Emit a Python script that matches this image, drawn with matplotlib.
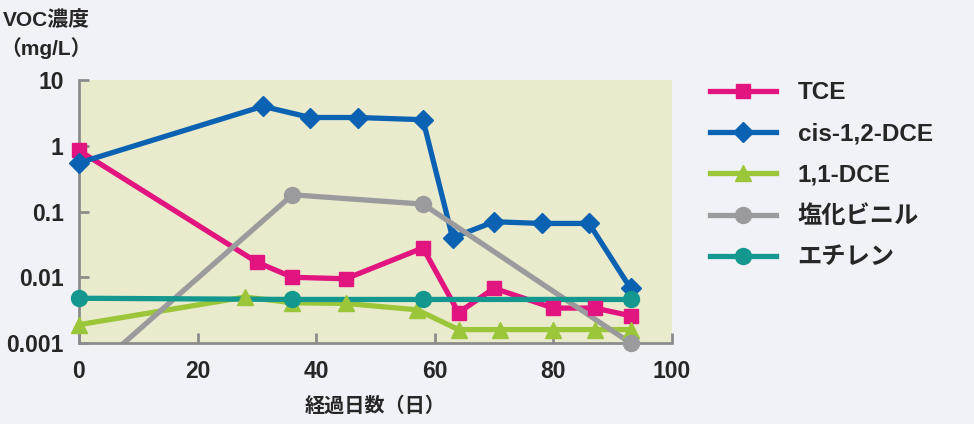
import matplotlib
matplotlib.use("Agg")
import matplotlib.pyplot as plt
import numpy as np

plt.rcParams['font.family'] = ['Liberation Sans', 'Noto Sans CJK JP', 'DejaVu Sans']
plt.rcParams['font.weight'] = 'bold'

# 経過日数と各VOC濃度 (mg/L)
tce_days = [0, 30, 36, 45, 58, 64, 70, 80, 87, 93]
tce_vals = [0.85, 0.017, 0.010, 0.0095, 0.028, 0.0029, 0.0068, 0.0034, 0.0034, 0.0026]

cis_days = [0, 31, 39, 47, 58, 63, 70, 78, 86, 93]
cis_vals = [0.55, 4.0, 2.7, 2.7, 2.5, 0.040, 0.070, 0.066, 0.066, 0.0068]

dce11_days = [0, 28, 36, 45, 57, 64, 71, 80, 87, 93]
dce11_vals = [0.0019, 0.0050, 0.0041, 0.0040, 0.0032, 0.0016, 0.0016, 0.0016, 0.0016, 0.0016]

vc_days = [0, 36, 58, 93]
vc_vals = [0.00025, 0.18, 0.13, 0.001]

eth_days = [0, 36, 58, 93]
eth_vals = [0.0048, 0.0046, 0.0046, 0.0046]

series = [
    ("TCE", tce_days, tce_vals, "#E2147F", "s", 10.5),
    ("cis-1,2-DCE", cis_days, cis_vals, "#0B62B2", "D", 10),
    ("1,1-DCE", dce11_days, dce11_vals, "#9CC63A", "^", 11.5),
    ("塩化ビニル", vc_days, vc_vals, "#9B9B9E", "o", 11.5),
    ("エチレン", eth_days, eth_vals, "#13978E", "o", 11.5),
]
text_col = "#262626"

fig = plt.figure(figsize=(9.74, 4.24), dpi=100)
fig.patch.set_facecolor("#F1F2F7")
ax = fig.add_axes([0.081, 0.191, 0.609, 0.62])
ax.set_facecolor("#E9EBCC")

# 描画順: 下から
order = [4, 3, 2, 0, 1]
handles = {}
for i in order:
    name, d, v, c, m, ms = series[i]
    d = np.array(d)
    v = np.array(v)
    ax.plot(d, v, color=c, lw=3.8, zorder=2 + i * 0.1)
    mask = v >= 0.001
    ax.plot(d[mask], v[mask], ls="none", marker=m, ms=ms, color=c,
            clip_on=False, zorder=3 + i * 0.1)
    handles[i] = plt.Line2D([], [], color=c, lw=3.8, marker=m, ms=ms)

ax.set_yscale("log")
ax.set_ylim(0.001, 10)
ax.set_xlim(0, 100)
ax.set_yticks([0.001, 0.01, 0.1, 1, 10])
ax.set_yticklabels(["0.001", "0.01", "0.1", "1", "10"])
ax.minorticks_off()
ax.set_xticks([0, 20, 40, 60, 80, 100])

for s in ["top", "right"]:
    ax.spines[s].set_visible(False)
for s in ["left", "bottom"]:
    ax.spines[s].set_color("#8C8C8C")
    ax.spines[s].set_linewidth(2)
ax.tick_params(direction="in", length=7, width=2, color="#8C8C8C",
               labelsize=16.5, labelcolor=text_col)
ax.tick_params(axis="y", pad=11)
ax.tick_params(axis="x", pad=12)
for lab in ax.get_xticklabels() + ax.get_yticklabels():
    lab.set_fontweight("bold")

ax.set_xlabel("経過日数（日）", fontsize=14.5, fontweight="bold",
              color=text_col, labelpad=10)
fig.text(0.003, 0.952, "VOC濃度", fontsize=15, fontweight="bold",
         color=text_col, va="center", ha="left")
fig.text(0.0, 0.887, "（mg/L）", fontsize=15, fontweight="bold",
         color=text_col, va="center", ha="left")

leg = fig.legend([handles[i] for i in range(5)], [s[0] for s in series],
                 loc="upper left", bbox_to_anchor=(0.729, 0.808),
                 frameon=False, fontsize=17.5, handlelength=2.7,
                 handletextpad=0.9, labelspacing=0.75, borderpad=0,
                 borderaxespad=0)
for t in leg.get_texts():
    t.set_fontweight("bold")
    t.set_color(text_col)

fig.savefig("out.png", dpi=100, facecolor=fig.get_facecolor())
